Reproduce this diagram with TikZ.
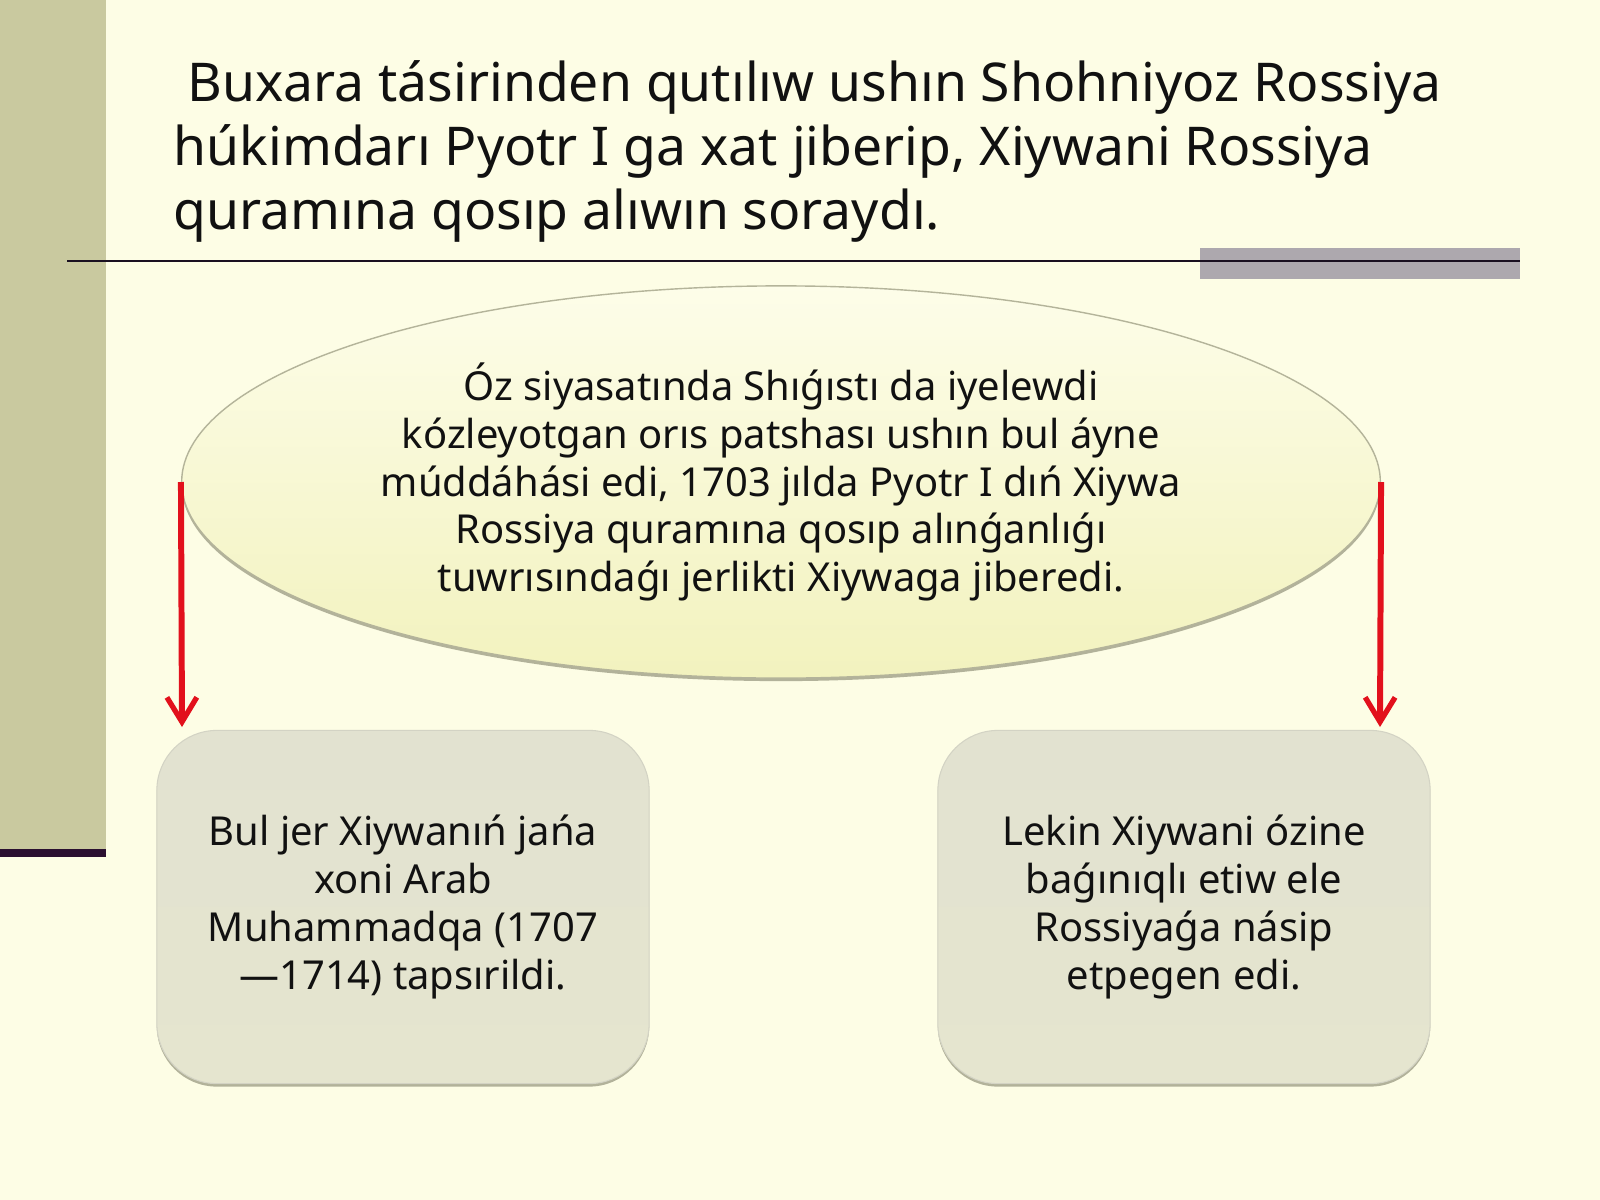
\documentclass[tikz,border=0pt]{standalone}
\usepackage{fontspec}
\setmainfont{Noto Sans}
\usetikzlibrary{shapes.geometric,arrows.meta}
\definecolor{bgc}{HTML}{FDFDE5}
\definecolor{bandc}{HTML}{C9C99F}
\definecolor{banddark}{HTML}{2B1030}
\definecolor{rulec}{HTML}{1A1020}
\definecolor{barc}{HTML}{ADA8AE}
\definecolor{ovaltop}{HTML}{FDFDE9}
\definecolor{ovalbot}{HTML}{F2F2BE}
\definecolor{ovalline}{HTML}{B4B49A}
\definecolor{shadowc}{HTML}{B2B29A}
\definecolor{boxtop}{HTML}{E2E2D0}
\definecolor{boxbot}{HTML}{E5E5CF}
\definecolor{arrowred}{HTML}{E2101C}
\definecolor{textc}{HTML}{111111}
\begin{document}
\begin{tikzpicture}[x=0.01cm,y=-0.01cm,
  titletext/.style={anchor=base west,inner sep=0pt,text=textc,font=\fontsize{15.2pt}{18.5pt}\selectfont},
  bodytext/.style={align=center,inner sep=0pt,text=textc,font=\fontsize{11.35pt}{13.6pt}\selectfont},
  ovalshape/.style={ellipse,minimum width=11.98cm,minimum height=3.92cm,inner sep=0pt},
  ovalbox/.style={ovalshape,top color=ovaltop,bottom color=ovalbot,draw=ovalline,line width=0.4pt},
  ovalshadow/.style={ovalshape,fill=shadowc,draw=none},
  boxshape/.style={rectangle,rounded corners=0.6cm,minimum width=4.92cm,minimum height=3.53cm,inner sep=0pt},
  roundbox/.style={boxshape,top color=boxtop,bottom color=boxbot,draw=boxtop!85!gray,line width=0.3pt},
  boxshadow/.style={boxshape,fill=shadowc,draw=none},
  redarrow/.style={draw=arrowred,line width=1.7pt,-{Straight Barb[length=7pt,width=8.5pt,line width=1.5pt]}}
]
\useasboundingbox (0,0) rectangle (1600,1200);
\fill[bgc] (0,0) rectangle (1600,1200);
% left band
\fill[bandc] (0,0) rectangle (106,849);
\fill[banddark] (0,849) rectangle (106,857);
% rule and bar
\fill[barc] (1200,248) rectangle (1520,279);
\coordinate (r1) at (67,261);
\coordinate (r2) at (1520,261);
\draw[rulec,line width=0.85pt] (r1) -- (r2);
% title
\node[titletext] (t1) at (173,101) {\ Buxara tásirinden qutılıw ushın Shohniyoz Rossiya};
\node[titletext] (t2) at (173,165) {húkimdarı Pyotr I ga xat jiberip, Xiywani Rossiya};
\node[titletext] (t3) at (173,229) {quramına qosıp alıwın soraydı.};
% oval
\node[ovalshadow] (ellsh) at (781,485) {};
\node[ovalbox] (ell) at (781,482) {};
\node[bodytext] (elltext) at (781,482) {Óz siyasatında Shıǵıstı da iyelewdi\\kózleyotgan orıs patshası ushın bul áyne\\múddáhási edi, 1703 jılda Pyotr I dıń Xiywa\\Rossiya quramına qosıp alınǵanlıǵı\\tuwrısındaǵı jerlikti Xiywaga jiberedi.};
% boxes
\node[boxshadow] (lbsh) at (403,910) {};
\node[roundbox] (lb) at (403,907) {};
\node[bodytext] (lbtext) at (403,907) {Bul jer Xiywanıń jańa\\xoni Arab\\Muhammadqa (1707\\—1714) tapsırildi.};
\node[boxshadow] (rbsh) at (1184,910) {};
\node[roundbox] (rb) at (1184,907) {};
\node[bodytext] (rbtext) at (1184,907) {Lekin Xiywani ózine\\baǵınıqlı etiw ele\\Rossiyaǵa násip\\etpegen edi.};
% arrows
\coordinate (la) at (182,727);
\coordinate (ra) at (1380,727);
\draw[redarrow] (ell.west) -- (la);
\draw[redarrow] (ell.east) -- (ra);
\end{tikzpicture}
\end{document}
